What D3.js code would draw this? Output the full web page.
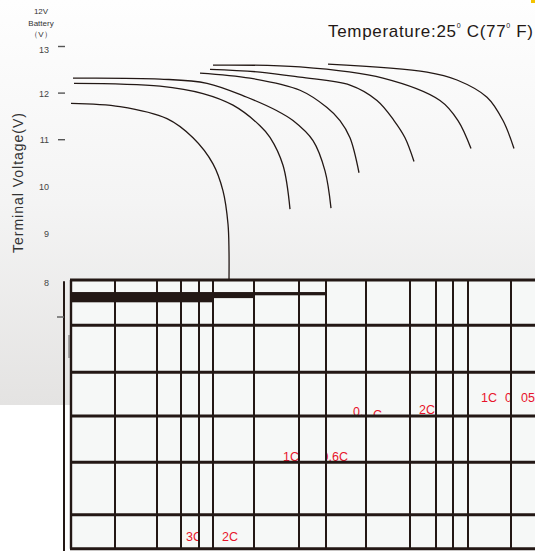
<!DOCTYPE html>
<html>
<head>
<meta charset="utf-8">
<script src="https://cdn.jsdelivr.net/npm/d3@7/dist/d3.min.js"></script>
<style>
body { margin:0; background:#fff; }
svg { display:block; font-family: Arial, "Liberation Sans", sans-serif; }
</style>
</head>
<body>
<svg id="chart" width="535" height="551"></svg>
<script>
// discharge curves, t = arbitrary time units, v = volts
var rates = ["3C", "2C", "1C", "0.6C", "0.2C", "0.1C", "0.05C"];
var curve3C = [[0,11.77],[49,11.70],[96,11.44],[122,11.03],[142,10.47],[152,9.89],[157,9.18],[158,8.59],[158,7.97]];
var curve2C = [[3,12.20],[89,12.14],[132,11.98],[162,11.73],[189,11.29],[199,11.04],[212,10.44],[219,9.50]];
var curve1C = [[2,12.31],[89,12.29],[136,12.20],[176,11.90],[206,11.61],[222,11.40],[242,10.97],[254,10.32],[260,9.52]];
var curve06C = [[129,12.42],[179,12.31],[229,12.05],[256,11.68],[269,11.40],[279,11.03],[288,10.28]];
var curve02C = [[139,12.50],[189,12.44],[229,12.33],[279,12.16],[306,11.83],[323,11.40],[334,11.03],[343,10.52]];
var curve01C = [[142,12.59],[229,12.55],[312,12.31],[369,11.83],[387,11.40],[400,10.80]];
var curve005C = [[257,12.61],[356,12.44],[386,12.27],[416,11.90],[432,11.40],[443,10.80]];
var curves = [curve3C, curve2C, curve1C, curve06C, curve02C, curve01C, curve005C];

var voltTicks = [13, 12, 11, 10, 9, 8];

// table overlay (x in time units, y in volts)
var tableCols = [0, 44, 86, 110, 128, 142, 183, 228, 255, 295, 339, 365, 382, 397, 440];
var tableRows = [7.98, 7.01, 6.0, 5.06, 4.07, 2.94, 2.21];
var barSegments = [[0, 142, 0.22], [142, 183, 0.13], [183, 255, 0.07]];

// red rate labels, clipped where the table hides them
var rateLabels = [
    {text:"0.", t:282, v:5.06},
    {text:"C", t:302, v:5.0, clip:[290, 320, 5.5, 5.07]},
    {text:"2C", t:348, v:5.1},
    {text:"1C", t:410, v:5.35},
    {text:"0", t:434, v:5.35, clip:[430, 439.5, 5.7, 5.1]},
    {text:"05", t:450, v:5.35},
    {text:"1C", t:212, v:4.1, clip:[200, 227, 4.5, 3.8]},
    {text:"0.6C", t:250.5, v:4.1, clip:[255.5, 300, 4.5, 3.8]},
    {text:"3C", t:115, v:2.38, clip:[100, 127, 2.8, 2.0]},
    {text:"2C", t:151, v:2.38}
];

var svg = d3.select("#chart");
var width = 535, height = 551;
var x = d3.scaleLinear().domain([0, 464]).range([71, 535]);
var y = d3.scaleLinear().domain([8, 13]).range([279, 46]);
var ink = "#231815";

var defs = svg.append("defs");
var grad = defs.append("linearGradient").attr("id", "bg")
    .attr("x1", 0).attr("y1", 0).attr("x2", 0).attr("y2", 1);
grad.append("stop").attr("offset", "0%").attr("stop-color", "#fefefe");
grad.append("stop").attr("offset", "50%").attr("stop-color", "#f4f4f4");
grad.append("stop").attr("offset", "100%").attr("stop-color", "#e4e3e2");

svg.append("rect").attr("width", width).attr("height", height).attr("fill", "#fff");
svg.append("rect").attr("width", width).attr("height", 405).attr("fill", "url(#bg)");
svg.append("rect").attr("x", 531).attr("y", 0).attr("width", 4).attr("height", 3).attr("fill", "#f4c300");

// header texts
svg.append("g").selectAll("text")
    .data(["12V", "Battery", "（V）"]).enter()
    .append("text")
    .attr("x", 41).attr("y", (d, i) => 14 + i * 11.5)
    .attr("text-anchor", "middle")
    .attr("font-size", 8).attr("fill", "#333")
    .text(d => d);

var temp = svg.append("text").attr("x", 328).attr("y", 37)
    .attr("font-size", 17).attr("fill", "#231815")
    .attr("textLength", 205).attr("lengthAdjust", "spacing");
temp.append("tspan").text("Temperature:25");
temp.append("tspan").attr("font-size", 7).attr("dy", -9).text("0");
temp.append("tspan").attr("dy", 9).text("  C(77");
temp.append("tspan").attr("font-size", 7).attr("dy", -9).text("0");
temp.append("tspan").attr("dy", 9).text("  F)");

svg.append("text")
    .attr("transform", "translate(23," + 183 + ") rotate(-90)")
    .attr("text-anchor", "middle")
    .attr("font-size", 14).attr("fill", "#333")
    .attr("textLength", 140).attr("lengthAdjust", "spacing")
    .text("Terminal Voltage(V)");

// y axis
var yAxis = svg.append("g")
    .attr("transform", "translate(65,0)")
    .call(d3.axisLeft(y).tickValues(voltTicks).tickFormat(d3.format("d")).tickSize(7).tickPadding(9));
yAxis.select(".domain").remove();
yAxis.selectAll(".tick line")
    .attr("stroke", "#555").attr("stroke-width", 1.4)
    .attr("display", d => d >= 11 ? null : "none");
yAxis.selectAll(".tick text")
    .attr("font-size", 9).attr("fill", "#444")
    .attr("font-family", "Arial, 'Liberation Sans', sans-serif")
    .attr("dy", d => d == 8 ? "0.75em" : d == 13 ? "0.7em" : "0.4em");

// curves
var line = d3.line()
    .x(d => x(d[0])).y(d => y(d[1]))
    .curve(d3.curveCatmullRom.alpha(0.5));
svg.append("g").selectAll("path")
    .data(curves).enter()
    .append("path")
    .attr("d", line)
    .attr("fill", "none")
    .attr("stroke", ink)
    .attr("stroke-width", 1.3);

// table overlay fill
svg.append("rect")
    .attr("x", x(0)).attr("y", y(tableRows[0]))
    .attr("width", width - x(0))
    .attr("height", y(tableRows[tableRows.length - 1]) - y(tableRows[0]))
    .attr("fill", "#f6f8f7");

// left margin marks
svg.append("line").attr("x1", 64).attr("x2", 64).attr("y1", y(7.95)).attr("y2", height)
    .attr("stroke", ink).attr("stroke-width", 2);
svg.append("line").attr("x1", 57).attr("x2", 64).attr("y1", 317).attr("y2", 317)
    .attr("stroke", "#666").attr("stroke-width", 1.5);
svg.append("line").attr("x1", 69).attr("x2", 69).attr("y1", 335).attr("y2", 358)
    .attr("stroke", "#777").attr("stroke-width", 1.2);

// red labels
rateLabels.forEach((d, i) => {
    var t = svg.append("text")
        .attr("x", x(d.t)).attr("y", y(d.v))
        .attr("font-size", 12.5).attr("fill", "#e8142c")
        .text(d.text);
    if (d.clip) {
        defs.append("clipPath").attr("id", "clip" + i)
            .append("rect")
            .attr("x", x(d.clip[0])).attr("y", y(d.clip[2]))
            .attr("width", x(d.clip[1]) - x(d.clip[0]))
            .attr("height", y(d.clip[3]) - y(d.clip[2]));
        t.attr("clip-path", "url(#clip" + i + ")");
    }
});

// table lines
var gridLines = svg.append("g");
gridLines.selectAll("line.col")
    .data(tableCols).enter()
    .append("line").attr("class", "col")
    .attr("x1", d => x(d)).attr("x2", d => x(d))
    .attr("y1", y(tableRows[0])).attr("y2", y(tableRows[tableRows.length - 1]))
    .attr("stroke", ink).attr("stroke-width", (d, i) => i == 0 ? 2.4 : 2);
gridLines.selectAll("line.row")
    .data(tableRows).enter()
    .append("line").attr("class", "row")
    .attr("x1", x(0) - 1).attr("x2", width)
    .attr("y1", d => y(d)).attr("y2", d => y(d))
    .attr("stroke", ink).attr("stroke-width", 3);
gridLines.selectAll("rect")
    .data(barSegments).enter()
    .append("rect")
    .attr("x", d => x(d[0])).attr("width", d => x(d[1]) - x(d[0]))
    .attr("y", y(7.72)).attr("height", d => y(7.72 - d[2]) - y(7.72))
    .attr("fill", ink);
</script>
</body>
</html>
